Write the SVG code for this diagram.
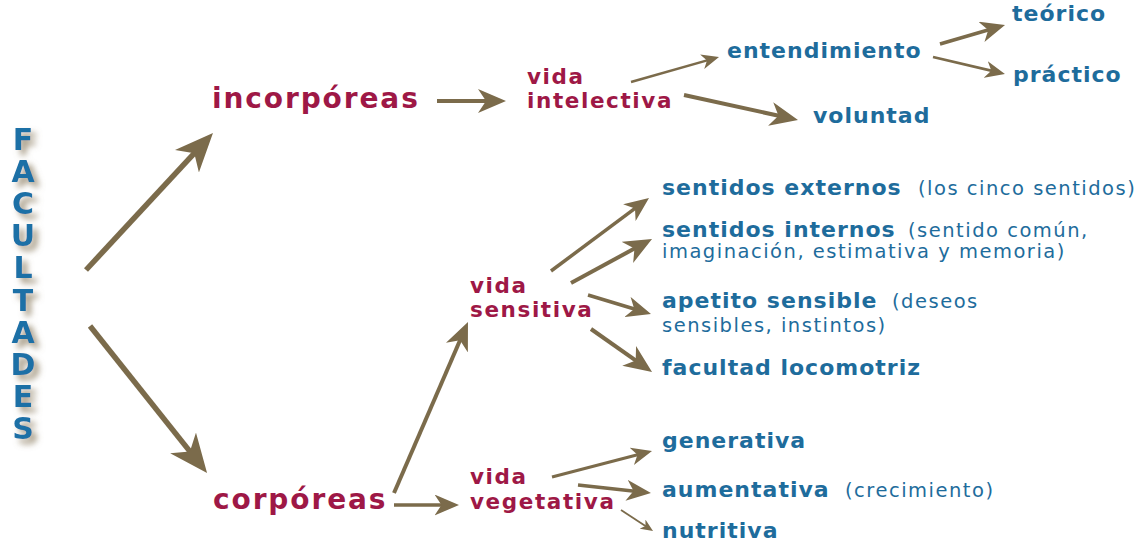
<svg xmlns="http://www.w3.org/2000/svg" width="1142" height="546" viewBox="0 0 1142 546">
<style>
.red{font-family:"DejaVu Sans","Liberation Sans",sans-serif;font-weight:bold;fill:#9e1846}
.big{font-size:28px;letter-spacing:1.9px}
.mid{font-size:21.5px;letter-spacing:1.6px}
.blue{font-family:"DejaVu Sans","Liberation Sans",sans-serif;font-weight:bold;fill:#1e6c9c;font-size:22px;letter-spacing:1px}
.note{font-weight:normal;font-size:19.5px;letter-spacing:1.5px}
.fac{font-family:"DejaVu Sans","Liberation Sans",sans-serif;font-weight:bold;fill:#1f6fa6;font-size:30px;letter-spacing:-2.9px;writing-mode:vertical-rl;text-orientation:upright}
.arr{stroke:#7b6b4b;fill:none;stroke-linecap:butt;marker-end:url(#head)}
</style>
<defs>
<marker id="head" viewBox="0 0 7 6" markerWidth="7" markerHeight="6" refX="5" refY="3" orient="auto" markerUnits="strokeWidth">
<path d="M0,0 L7,3 L0,6 L2,3 z" fill="#7b6b4b"/>
</marker>
<filter id="shadow" x="-50%" y="-20%" width="200%" height="140%">
<feGaussianBlur in="SourceAlpha" stdDeviation="3" result="b"/>
<feOffset in="b" dx="5" dy="5" result="o"/>
<feFlood flood-color="#8a7b5e" flood-opacity="0.8"/>
<feComposite in2="o" operator="in" result="s"/>
<feMerge><feMergeNode in="s"/><feMergeNode in="SourceGraphic"/></feMerge>
</filter>
</defs>
<rect width="1142" height="546" fill="#ffffff"/>

<g id="connectors">
<path class="arr" stroke-width="5.5" d="M86,270 L205.5,141.1"/>
<path class="arr" stroke-width="5.5" d="M90,326 L200.2,464.4"/>
<path class="arr" stroke-width="4" d="M437,101 L498,101"/>
<path class="arr" stroke-width="2.5" d="M631,82 L714.2,58.4"/>
<path class="arr" stroke-width="4" d="M684,95 L790.2,118.3"/>
<path class="arr" stroke-width="3.5" d="M940,44 L998.3,27"/>
<path class="arr" stroke-width="2.8" d="M933,57 L999.5,72.7"/>
<path class="arr" stroke-width="4" d="M394,493 L464.8,329.3"/>
<path class="arr" stroke-width="3.5" d="M394,505 L452,505"/>
<path class="arr" stroke-width="3.5" d="M551,271 L643.4,202.2"/>
<path class="arr" stroke-width="4" d="M571,283 L645,242.8"/>
<path class="arr" stroke-width="3.5" d="M588,295 L644.3,312"/>
<path class="arr" stroke-width="4" d="M591,329 L645.5,367.4"/>
<path class="arr" stroke-width="3" d="M552,477 L646.2,452.5"/>
<path class="arr" stroke-width="3.5" d="M578,485 L644,492.2"/>
<path class="arr" stroke-width="1.8" d="M621,510 L650,529"/>
</g>

<g id="facultades" filter="url(#shadow)">
<text class="fac" x="23" y="122">FACULTADES</text>
</g>

<g id="incorporeas"><text class="red big" x="212" y="108">incorpóreas</text></g>
<g id="corporeas"><text class="red big" x="213" y="509">corpóreas</text></g>

<g id="vida-intelectiva"><text class="red mid" x="527" y="84">vida<tspan x="527" y="108">intelectiva</tspan></text></g>
<g id="vida-sensitiva"><text class="red mid" x="470" y="293">vida<tspan x="470" y="317">sensitiva</tspan></text></g>
<g id="vida-vegetativa"><text class="red mid" x="470" y="484">vida<tspan x="470" y="509">vegetativa</tspan></text></g>

<g id="entendimiento"><text class="blue" x="727" y="58">entendimiento</text></g>
<g id="teorico"><text class="blue" x="1012" y="21">teórico</text></g>
<g id="practico"><text class="blue" x="1013" y="82">práctico</text></g>
<g id="voluntad"><text class="blue" x="813" y="123">voluntad</text></g>

<g id="sentidos-externos"><text class="blue" x="662" y="195">sentidos externos<tspan class="note" x="918">(los cinco sentidos)</tspan></text></g>
<g id="sentidos-internos"><text class="blue" x="662" y="237">sentidos internos<tspan class="note" x="908">(sentido común,</tspan><tspan class="note" x="662" y="258">imaginación, estimativa y memoria)</tspan></text></g>
<g id="apetito-sensible"><text class="blue" x="662" y="308">apetito sensible<tspan class="note" x="892">(deseos</tspan><tspan class="note" x="662" y="332">sensibles, instintos)</tspan></text></g>
<g id="facultad-locomotriz"><text class="blue" x="662" y="375">facultad locomotriz</text></g>

<g id="generativa"><text class="blue" x="662" y="448">generativa</text></g>
<g id="aumentativa"><text class="blue" x="662" y="497">aumentativa<tspan class="note" x="845">(crecimiento)</tspan></text></g>
<g id="nutritiva"><text class="blue" x="662" y="538">nutritiva</text></g>
</svg>
